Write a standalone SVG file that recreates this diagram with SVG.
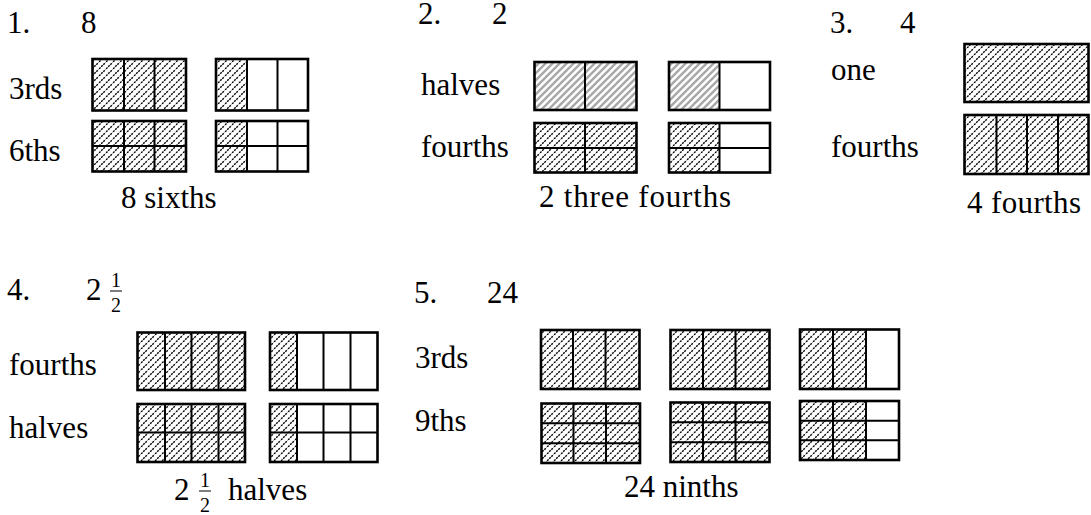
<svg xmlns="http://www.w3.org/2000/svg" width="1091" height="515" viewBox="0 0 1091 515">
<defs>
  <pattern id="hatch" patternUnits="userSpaceOnUse" width="7" height="7">
    <rect width="7" height="7" fill="#fff"/>
    <path d="M-1,8 L8,-1 M-4,4 L4,-4 M3,11 L11,3" stroke="#000" stroke-width="1.4" stroke-dasharray="2 1"/>
  </pattern>
  <pattern id="grayhatch" patternUnits="userSpaceOnUse" width="7" height="7">
    <rect width="7" height="7" fill="#fff"/>
    <path d="M-1,8 L8,-1 M-4,4 L4,-4 M3,11 L11,3" stroke="#a8a8a8" stroke-width="2.4"/>
  </pattern>
</defs>
<style>
  text { font-family: "Liberation Serif", "Times New Roman", serif; font-size: 31px; fill: #000; }
  .frac { font-size: 20px; }
  .hb { fill: url(#hatch); }
  .hg { fill: url(#grayhatch); }
  .w { fill: #fff; }
  .div { stroke: #000; stroke-width: 2; fill: none; }
  .out { stroke: #000; stroke-width: 2.6; fill: none; }
  .bar { stroke: #000; stroke-width: 1; }
</style>
<rect width="1091" height="515" fill="#fff"/>

<g id="problem1">
  <text x="7" y="33">1.</text>
  <text x="81" y="33">8</text>
  <text x="9" y="99">3rds</text>
  <text x="9" y="161">6ths</text>
  <g id="p1-thirds-whole">
    <rect class="hb" x="92.5" y="59" width="93.5" height="51.5"/>
    <path class="div" d="M124,59 V110.5 M154.5,59 V110.5"/>
    <rect class="out" x="92.5" y="59" width="93.5" height="51.5"/>
  </g>
  <g id="p1-thirds-part">
    <rect class="w" x="216" y="59" width="92" height="51.5"/>
    <rect class="hb" x="216" y="59" width="31" height="51.5"/>
    <path class="div" d="M247,59 V110.5 M277.5,59 V110.5"/>
    <rect class="out" x="216" y="59" width="92" height="51.5"/>
  </g>
  <g id="p1-sixths-whole">
    <rect class="hb" x="92.5" y="121" width="93.5" height="50.5"/>
    <path class="div" d="M124,121 V171.5 M154.5,121 V171.5 M92.5,146 H186"/>
    <rect class="out" x="92.5" y="121" width="93.5" height="50.5"/>
  </g>
  <g id="p1-sixths-part">
    <rect class="w" x="216" y="121" width="92" height="50.5"/>
    <rect class="hb" x="216" y="121" width="31" height="50.5"/>
    <path class="div" d="M247,121 V171.5 M277.5,121 V171.5 M216,146 H308"/>
    <rect class="out" x="216" y="121" width="92" height="50.5"/>
  </g>
  <text x="121" y="208">8 sixths</text>
</g>

<g id="problem2">
  <text x="418" y="24">2.</text>
  <text x="492" y="24">2</text>
  <text x="421" y="95">halves</text>
  <text x="421" y="157">fourths</text>
  <g id="p2-halves-whole">
    <rect class="hg" x="534.5" y="62" width="102" height="48"/>
    <path class="div" d="M585,62 V110"/>
    <rect class="out" x="534.5" y="62" width="102" height="48"/>
  </g>
  <g id="p2-halves-part">
    <rect class="w" x="669" y="62" width="101" height="48"/>
    <rect class="hg" x="669" y="62" width="50.5" height="48"/>
    <path class="div" d="M719.5,62 V110"/>
    <rect class="out" x="669" y="62" width="101" height="48"/>
  </g>
  <g id="p2-fourths-whole">
    <rect class="hb" x="534.5" y="123" width="102" height="49.5"/>
    <path class="div" d="M585,123 V172.5 M534.5,148 H636.5"/>
    <rect class="out" x="534.5" y="123" width="102" height="49.5"/>
  </g>
  <g id="p2-fourths-part">
    <rect class="w" x="669" y="123" width="101" height="49.5"/>
    <rect class="hb" x="669" y="123" width="50.5" height="49.5"/>
    <path class="div" d="M719.5,123 V172.5 M669,148 H770"/>
    <rect class="out" x="669" y="123" width="101" height="49.5"/>
  </g>
  <text x="539" y="207" textLength="192" lengthAdjust="spacing">2 three fourths</text>
</g>

<g id="problem3">
  <text x="830" y="33">3.</text>
  <text x="900" y="33">4</text>
  <text x="831" y="80">one</text>
  <text x="831" y="157">fourths</text>
  <g id="p3-one">
    <rect class="hb" x="964.5" y="44" width="124" height="58"/>
    <rect class="out" x="964.5" y="44" width="124" height="58"/>
  </g>
  <g id="p3-fourths">
    <rect class="hb" x="964.5" y="115" width="124" height="59"/>
    <path class="div" d="M996.5,115 V174 M1027,115 V174 M1058,115 V174"/>
    <rect class="out" x="964.5" y="115" width="124" height="59"/>
  </g>
  <text x="967" y="213" textLength="114" lengthAdjust="spacing">4 fourths</text>
</g>

<g id="problem4">
  <text x="7" y="300">4.</text>
  <text x="86" y="300">2</text>
  <text class="frac" x="111" y="287">1</text>
  <line class="bar" x1="110" y1="291" x2="122" y2="291"/>
  <text class="frac" x="111" y="312">2</text>
  <text x="9" y="375">fourths</text>
  <text x="9" y="438">halves</text>
  <g id="p4-fourths-whole">
    <rect class="hb" x="137.5" y="332.5" width="107.5" height="57.5"/>
    <path class="div" d="M165,332.5 V390 M191.5,332.5 V390 M218.5,332.5 V390"/>
    <rect class="out" x="137.5" y="332.5" width="107.5" height="57.5"/>
  </g>
  <g id="p4-fourths-part">
    <rect class="w" x="270" y="332.5" width="107.5" height="57.5"/>
    <rect class="hb" x="270" y="332.5" width="27" height="57.5"/>
    <path class="div" d="M297,332.5 V390 M323.5,332.5 V390 M350.5,332.5 V390"/>
    <rect class="out" x="270" y="332.5" width="107.5" height="57.5"/>
  </g>
  <g id="p4-eighths-whole">
    <rect class="hb" x="137.5" y="404" width="107.5" height="58"/>
    <path class="div" d="M165,404 V462 M191.5,404 V462 M218.5,404 V462 M137.5,432.5 H245"/>
    <rect class="out" x="137.5" y="404" width="107.5" height="58"/>
  </g>
  <g id="p4-eighths-part">
    <rect class="w" x="270" y="404" width="107.5" height="58"/>
    <rect class="hb" x="270" y="404" width="27" height="58"/>
    <path class="div" d="M297,404 V462 M323.5,404 V462 M350.5,404 V462 M270,432.5 H377.5"/>
    <rect class="out" x="270" y="404" width="107.5" height="58"/>
  </g>
  <text x="174" y="500">2</text>
  <text class="frac" x="200" y="487">1</text>
  <line class="bar" x1="199" y1="491" x2="211" y2="491"/>
  <text class="frac" x="200" y="512">2</text>
  <text x="228" y="500">halves</text>
</g>

<g id="problem5">
  <text x="414" y="303">5.</text>
  <text x="487" y="303">24</text>
  <text x="415" y="368">3rds</text>
  <text x="415" y="431">9ths</text>
  <g id="p5-thirds-1">
    <rect class="hb" x="541" y="330" width="98.5" height="59"/>
    <path class="div" d="M573,330 V389 M605.5,330 V389"/>
    <rect class="out" x="541" y="330" width="98.5" height="59"/>
  </g>
  <g id="p5-thirds-2">
    <rect class="hb" x="670.5" y="330" width="99" height="59"/>
    <path class="div" d="M703,330 V389 M735.5,330 V389"/>
    <rect class="out" x="670.5" y="330" width="99" height="59"/>
  </g>
  <g id="p5-thirds-3">
    <rect class="w" x="800" y="329.5" width="99" height="59.5"/>
    <rect class="hb" x="800" y="329.5" width="66" height="59.5"/>
    <path class="div" d="M833,329.5 V389 M866,329.5 V389"/>
    <rect class="out" x="800" y="329.5" width="99" height="59.5"/>
  </g>
  <g id="p5-ninths-1">
    <rect class="hb" x="541.5" y="403.5" width="98.5" height="59.5"/>
    <path class="div" d="M573.5,403.5 V463 M606,403.5 V463 M541.5,423.3 H640 M541.5,443.3 H640"/>
    <rect class="out" x="541.5" y="403.5" width="98.5" height="59.5"/>
  </g>
  <g id="p5-ninths-2">
    <rect class="hb" x="670.5" y="402.5" width="99" height="59.5"/>
    <path class="div" d="M703,402.5 V462 M735.5,402.5 V462 M670.5,422.3 H769.5 M670.5,442.2 H769.5"/>
    <rect class="out" x="670.5" y="402.5" width="99" height="59.5"/>
  </g>
  <g id="p5-ninths-3">
    <rect class="w" x="800" y="401" width="99" height="59"/>
    <rect class="hb" x="800" y="401" width="66" height="59"/>
    <path class="div" d="M833,401 V460 M866,401 V460 M800,420.7 H899 M800,440.3 H899"/>
    <rect class="out" x="800" y="401" width="99" height="59"/>
  </g>
  <text x="624" y="497">24 ninths</text>
</g>

<g id="connectors"/>
</svg>
